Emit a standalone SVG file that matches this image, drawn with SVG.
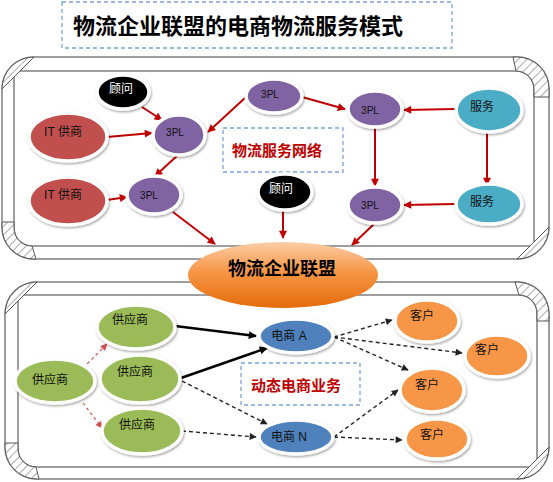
<svg xmlns="http://www.w3.org/2000/svg" width="553" height="482" viewBox="0 0 553 482">
<defs>
<pattern id="hatch" patternUnits="userSpaceOnUse" width="6" height="6" patternTransform="rotate(45)">
<rect width="6" height="6" fill="#fff"/>
<line x1="0" y1="0" x2="0" y2="6" stroke="#555" stroke-width="1"/>
</pattern>
<linearGradient id="og" x1="0" y1="0" x2="0" y2="1">
<stop offset="0" stop-color="#fbcda6"/>
<stop offset="0.45" stop-color="#f79646"/>
<stop offset="1" stop-color="#e46c0a"/>
</linearGradient>
<filter id="sh" x="-20%" y="-20%" width="140%" height="150%">
<feDropShadow dx="1" dy="1.5" stdDeviation="1.2" flood-color="#000" flood-opacity="0.35"/>
</filter>
<marker id="ar" viewBox="0 0 10 10" refX="9" refY="5" markerUnits="userSpaceOnUse" markerWidth="9" markerHeight="8" orient="auto">
<path d="M0,0 L10,5 L0,10 Z" fill="#c00000"/>
</marker>
<marker id="ab" viewBox="0 0 10 10" refX="9" refY="5" markerUnits="userSpaceOnUse" markerWidth="9" markerHeight="8" orient="auto">
<path d="M0,0 L10,5 L0,10 Z" fill="#000"/>
</marker>
<marker id="ad" viewBox="0 0 10 10" refX="9" refY="5" markerUnits="userSpaceOnUse" markerWidth="8" markerHeight="7" orient="auto">
<path d="M0,0 L10,5 L0,10 Z" fill="#222"/>
</marker>
<marker id="arr" viewBox="0 0 10 10" refX="9" refY="5" markerUnits="userSpaceOnUse" markerWidth="8" markerHeight="7" orient="auto">
<path d="M0,0 L10,5 L0,10 Z" fill="#d05050"/>
</marker>
</defs>
<style>
.fr{fill:#fff;stroke:#7f7f7f;stroke-width:1.5}
.fi{fill:none;stroke:#7f7f7f;stroke-width:1.5}
.ht{fill:url(#hatch);stroke:#555;stroke-width:1}
.n{stroke:#fff;stroke-width:3.5;filter:url(#sh)}
.t{font-family:"Liberation Sans","Noto Sans CJK SC",sans-serif;font-size:12px;fill:#111;text-anchor:middle;dominant-baseline:central}
.s{font-size:10px}
.w{fill:#fff}
.lb{fill:none;stroke:#7aa3d6;stroke-width:1.3;stroke-dasharray:4,3}
.rt{font-family:"Noto Sans CJK SC",sans-serif;font-weight:bold;font-size:15px;fill:#c00000;text-anchor:middle;dominant-baseline:central}
.ra{stroke:#c00000;stroke-width:2;fill:none;marker-end:url(#ar)}
.ba{stroke:#000;stroke-width:2.5;fill:none;marker-end:url(#ab)}
.da{stroke:#222;stroke-width:1.4;stroke-dasharray:4,3;fill:none;marker-end:url(#ad)}
.dr{stroke:#d05050;stroke-width:1.2;stroke-dasharray:3,3;fill:none;marker-end:url(#arr)}
</style>
<rect width="553" height="482" fill="#fff"/>

<g id="title">
<rect class="lb" x="62" y="2" width="390" height="46"/>
<text x="238" y="24" font-family="'Noto Sans CJK SC',sans-serif" font-weight="bold" font-size="22" text-anchor="middle" dominant-baseline="central" fill="#000">物流企业联盟的电商物流服务模式</text>
</g>

<g id="frame-top">
<rect class="fr" x="2" y="57" width="547" height="202" rx="32"/>
<path class="fi" d="M14,246 L14,71 L516,71 A18,18 0 0 1 534,89 L534,246 L32,246"/>
<path class="fi" d="M14,228 A18,18 0 0 0 32,246"/>
<path class="ht" d="M2,89 A32,32 0 0 1 34,57 Z"/>
<path class="ht" d="M513,57 L517,57 A32,32 0 0 1 549,89 L549,97 L534,97 L534,89 A18,18 0 0 0 516,71 Z"/>
<path class="ht" d="M2,222 L14,222 L14,228 A18,18 0 0 0 32,246 L36,259 L34,259 A32,32 0 0 1 2,227 Z"/>
<path class="ht" d="M549,227 A32,32 0 0 1 517,259 Z"/>
</g>

<g id="frame-bottom">
<rect class="fr" x="5" y="282" width="544" height="197" rx="32"/>
<path class="fi" d="M18,467 L18,295 L519,295 A18,18 0 0 1 537,313 L537,467 L36,467"/>
<path class="fi" d="M18,449 A18,18 0 0 0 36,467"/>
<path class="ht" d="M5,314 A32,32 0 0 1 37,282 Z"/>
<path class="ht" d="M515,282 L517,282 A32,32 0 0 1 549,314 L549,321 L537,321 L537,313 A18,18 0 0 0 519,295 Z"/>
<path class="ht" d="M5,443 L18,443 L18,449 A18,18 0 0 0 36,467 L39,479 L37,479 A32,32 0 0 1 5,447 Z"/>
<path class="ht" d="M549,447 A32,32 0 0 1 517,479 Z"/>
</g>

<g id="connectors">
<line class="ra" x1="142" y1="107" x2="162" y2="120"/>
<line class="ra" x1="107" y1="137" x2="152" y2="133"/>
<line class="ra" x1="246" y1="97" x2="208" y2="132"/>
<line class="ra" x1="178" y1="155" x2="155" y2="176"/>
<line class="ra" x1="107" y1="200" x2="127" y2="197"/>
<line class="ra" x1="173" y1="212" x2="215" y2="244"/>
<line class="ra" x1="302" y1="97" x2="345" y2="109"/>
<line class="ra" x1="455" y1="109" x2="404" y2="110"/>
<line class="ra" x1="375" y1="128" x2="375" y2="186"/>
<line class="ra" x1="487" y1="129" x2="487" y2="185"/>
<line class="ra" x1="455" y1="204" x2="404" y2="205"/>
<line class="ra" x1="374" y1="224" x2="352" y2="245"/>
<line class="ra" x1="283" y1="211" x2="283" y2="238"/>
<line class="dr" x1="83" y1="368" x2="107" y2="344"/>
<line class="dr" x1="83" y1="403" x2="102" y2="428"/>
<line class="ba" x1="175" y1="326" x2="256" y2="336"/>
<line class="ba" x1="181" y1="378" x2="267" y2="348"/>
<line class="da" x1="182" y1="381" x2="267" y2="424"/>
<line class="da" x1="182" y1="431" x2="256" y2="437"/>
<line class="da" x1="334" y1="337" x2="392" y2="320"/>
<line class="da" x1="334" y1="337" x2="462" y2="353"/>
<line class="da" x1="334" y1="337" x2="408" y2="370"/>
<line class="da" x1="334" y1="437" x2="398" y2="390"/>
<line class="da" x1="334" y1="437" x2="402" y2="440"/>
</g>

<g id="label-network">
<rect class="lb" x="223" y="128" width="120" height="44"/>
<text class="rt" x="277" y="149">物流服务网络</text>
</g>
<g id="label-ecommerce">
<rect class="lb" x="241" y="363" width="119" height="42"/>
<text class="rt" x="296" y="384">动态电商业务</text>
</g>

<g id="n-guwen1"><ellipse class="n" cx="123" cy="92" rx="26" ry="17" fill="#000"/><text class="t w" x="121" y="89">顾问</text></g>
<g id="n-3pl1"><ellipse class="n" cx="179" cy="135" rx="26" ry="20" fill="#8064a2"/><text class="t s" x="175" y="132">3PL</text></g>
<g id="n-it1"><ellipse class="n" cx="68" cy="137" rx="39" ry="24" fill="#c0504d"/><text class="t" x="63" y="132">IT 供商</text></g>
<g id="n-it2"><ellipse class="n" cx="68" cy="201" rx="39" ry="24" fill="#c0504d"/><text class="t" x="63" y="195">IT 供商</text></g>
<g id="n-3pl2"><ellipse class="n" cx="154" cy="195" rx="27" ry="19" fill="#8064a2"/><text class="t s" x="149" y="195">3PL</text></g>
<g id="n-3pl3"><ellipse class="n" cx="274" cy="96" rx="28" ry="17" fill="#8064a2"/><text class="t s" x="270" y="94">3PL</text></g>
<g id="n-guwen2"><ellipse class="n" cx="285" cy="192" rx="27" ry="18" fill="#000"/><text class="t w" x="281" y="189">顾问</text></g>
<g id="n-3pl4"><ellipse class="n" cx="375" cy="109" rx="27" ry="18" fill="#8064a2"/><text class="t s" x="370" y="110">3PL</text></g>
<g id="n-fw1"><ellipse class="n" cx="489" cy="110" rx="33" ry="22" fill="#4bacc6"/><text class="t" x="482" y="107" font-size="13">服务</text></g>
<g id="n-3pl5"><ellipse class="n" cx="375" cy="205" rx="27" ry="18" fill="#8064a2"/><text class="t s" x="370" y="205">3PL</text></g>
<g id="n-fw2"><ellipse class="n" cx="489" cy="204" rx="33" ry="20" fill="#4bacc6"/><text class="t" x="482" y="202" font-size="13">服务</text></g>

<g id="n-alliance">
<ellipse cx="283" cy="275" rx="95" ry="33" fill="url(#og)"/>
<text x="282" y="267" font-family="'Noto Sans CJK SC',sans-serif" font-weight="bold" font-size="18" text-anchor="middle" dominant-baseline="central" fill="#000">物流企业联盟</text>
</g>

<g id="n-gys0"><ellipse class="n" cx="55" cy="381" rx="40" ry="22" fill="#9bbb59"/><text class="t" x="50" y="380">供应商</text></g>
<g id="n-gys1"><ellipse class="n" cx="136" cy="327" rx="39" ry="22" fill="#9bbb59"/><text class="t" x="130" y="320">供应商</text></g>
<g id="n-gys2"><ellipse class="n" cx="140" cy="379" rx="40" ry="24" fill="#9bbb59"/><text class="t" x="135" y="372">供应商</text></g>
<g id="n-gys3"><ellipse class="n" cx="142" cy="431" rx="40" ry="23" fill="#9bbb59"/><text class="t" x="137" y="425">供应商</text></g>
<g id="n-dsA"><ellipse class="n" cx="296" cy="336" rx="37" ry="17" fill="#4f81bd"/><text class="t" x="289" y="336" font-size="11">电商 A</text></g>
<g id="n-dsN"><ellipse class="n" cx="296" cy="437" rx="37" ry="17" fill="#4f81bd"/><text class="t" x="289" y="437" font-size="11">电商 N</text></g>
<g id="n-kh1"><ellipse class="n" cx="427" cy="321" rx="32" ry="21" fill="#f79646"/><text class="t" x="422" y="316" font-size="11">客户</text></g>
<g id="n-kh2"><ellipse class="n" cx="497" cy="356" rx="32" ry="21" fill="#f79646"/><text class="t" x="487" y="350" font-size="11">客户</text></g>
<g id="n-kh3"><ellipse class="n" cx="432" cy="390" rx="32" ry="22" fill="#f79646"/><text class="t" x="427" y="385" font-size="11">客户</text></g>
<g id="n-kh4"><ellipse class="n" cx="437" cy="439" rx="32" ry="20" fill="#f79646"/><text class="t" x="432" y="435" font-size="11">客户</text></g>
</svg>
